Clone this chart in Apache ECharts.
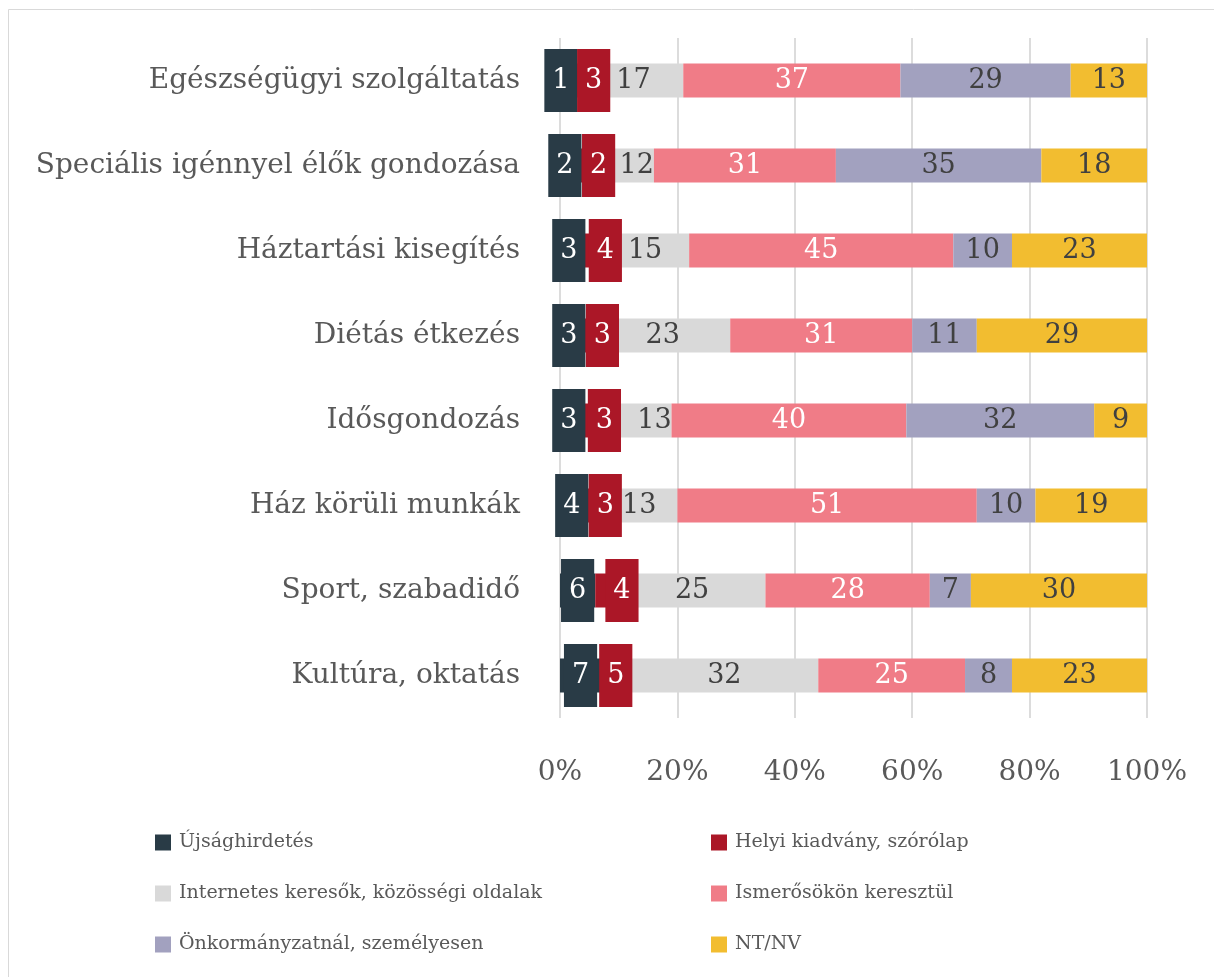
<!DOCTYPE html>
<html>
<head>
  <meta charset="UTF-8"/>
  <title></title>
  <style>
    html, body { margin: 0; padding: 0; background: #fff; }
    #main { width: 1214px; height: 977px; }
  </style>
</head>
<body>
<div id="main"></div>
<script src="https://cdn.jsdelivr.net/npm/echarts@6/dist/echarts.min.js"></script>
<script type="text/javascript">
    // kategóriák (felülről lefelé)
    const categories = ['Egészségügyi szolgáltatás', 'Speciális igénnyel élők gondozása', 'Háztartási kisegítés',
        'Diétás étkezés', 'Idősgondozás', 'Ház körüli munkák', 'Sport, szabadidő', 'Kultúra, oktatás'];
    const seriesNames = ['Újsághirdetés', 'Helyi kiadvány, szórólap', 'Internetes keresők, közösségi oldalak',
        'Ismerősökön keresztül', 'Önkormányzatnál, személyesen', 'NT/NV'];
    const ujsag = [1, 2, 3, 3, 3, 4, 6, 7];
    const helyi = [3, 2, 4, 3, 3, 3, 4, 5];
    const internet = [17, 12, 15, 23, 13, 13, 25, 32];
    const ismeros = [37, 31, 45, 31, 40, 51, 28, 25];
    const onkorm = [29, 35, 10, 11, 32, 10, 7, 8];
    const ntnv = [13, 18, 23, 29, 9, 19, 30, 23];
    const xTicks = [0, 20, 40, 60, 80, 100];

    // címkék kézi eltolása (px), mint az eredeti ábrán
    const shiftUjsag = [-2, -1, 0, 0, 0, 0, 0, 0];
    const shiftHelyi = [19, 21, 16, 16, 18, 13, 15, 0];
    const shiftInternet = [0, 18, 0, 0, 21, 0, 0, 0];

    const colors = ['#293b46', '#ab1727', '#d9d9d9', '#f07c87', '#a2a1bf', '#f2bd30'];
    const font = 'DejaVu Serif';

    function withShift(values, shifts) {
        return values.map(function (v, i) {
            return shifts[i] ? {value: v, label: {offset: [shifts[i], 0]}} : v;
        });
    }

    function makeSeries(i, values, boxed) {
        let label = {
            show: true,
            position: 'inside',
            fontFamily: font,
            fontSize: 27,
            color: (i === 0 || i === 1 || i === 3) ? '#ffffff' : '#404040'
        };
        if (boxed) {
            label.backgroundColor = colors[i];
            label.padding = [18, 8];
            label.lineHeight = 27;
        }
        return {
            name: seriesNames[i],
            type: 'bar',
            stack: 'total',
            barWidth: 34,
            itemStyle: {color: colors[i]},
            label: label,
            data: values
        };
    }

    let myChart = echarts.init(document.getElementById('main'));
    let legendText = {fontFamily: font, fontSize: 19, color: '#595959', padding: [0, 0, 0, 3]};
    let option = {
        animation: false,
        backgroundColor: '#fff',
        graphic: [{
            type: 'rect',
            shape: {x: 8.5, y: 9.5, width: 1400, height: 1400},
            style: {fill: 'none', stroke: '#d9d9d9', lineWidth: 1}
        }],
        grid: {left: 560, right: 67, top: 38, bottom: 259, outerBoundsMode: 'none'},
        legend: [{
            data: [seriesNames[0], seriesNames[2], seriesNames[4]],
            orient: 'vertical',
            left: 150, top: 828,
            itemWidth: 16, itemHeight: 16, itemGap: 32,
            icon: 'rect',
            textStyle: legendText
        }, {
            data: [seriesNames[1], seriesNames[3], seriesNames[5]],
            orient: 'vertical',
            left: 706, top: 828,
            itemWidth: 16, itemHeight: 16, itemGap: 32,
            icon: 'rect',
            textStyle: legendText
        }],
        xAxis: {
            type: 'value',
            min: xTicks[0],
            max: xTicks[xTicks.length - 1],
            interval: 20,
            axisLine: {show: false},
            axisTick: {show: false},
            splitLine: {lineStyle: {color: '#dcdcdc', width: 2}},
            axisLabel: {
                formatter: '{value}%',
                fontFamily: font,
                fontSize: 28,
                color: '#595959',
                margin: 41
            }
        },
        yAxis: {
            type: 'category',
            inverse: true,
            data: categories,
            axisLine: {show: false},
            axisTick: {show: false},
            axisLabel: {
                fontFamily: font,
                fontSize: 28,
                color: '#595959',
                margin: 40
            }
        },
        series: [
            makeSeries(0, withShift(ujsag, shiftUjsag), true),
            makeSeries(1, withShift(helyi, shiftHelyi), true),
            makeSeries(2, withShift(internet, shiftInternet), false),
            makeSeries(3, ismeros, false),
            makeSeries(4, onkorm, false),
            makeSeries(5, ntnv, false)
        ]
    };
    myChart.setOption(option);
</script>
</body>
</html>
